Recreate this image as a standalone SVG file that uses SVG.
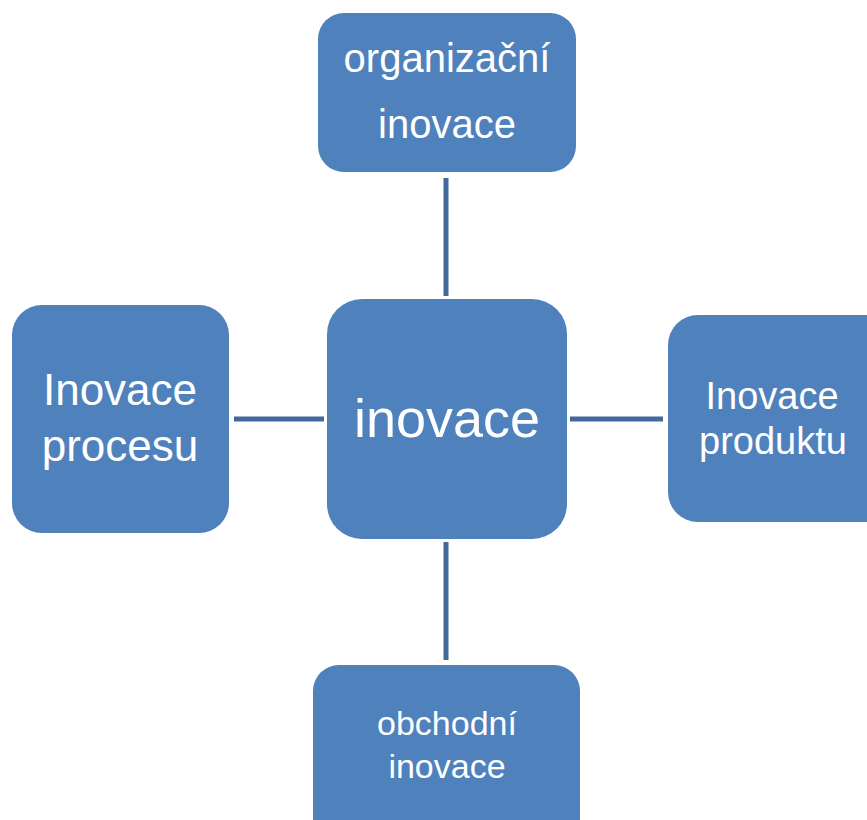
<svg xmlns="http://www.w3.org/2000/svg" width="867" height="820" viewBox="0 0 867 820">
  <style>
    .box { fill: #4F81BD; }
    .lbl { fill: #FFFFFF; font-family: "Liberation Sans", Arial, sans-serif; text-anchor: middle; }
    .link { stroke: #41699B; stroke-width: 5; fill: none; }
  </style>
  <rect width="867" height="820" fill="#FFFFFF"/>

  <g id="connectors">
    <line class="link" x1="446" y1="178" x2="446" y2="296"/>
    <line class="link" x1="234" y1="419" x2="324" y2="419"/>
    <line class="link" x1="570" y1="419" x2="663" y2="419"/>
    <line class="link" x1="446" y1="542" x2="446" y2="660"/>
  </g>

  <g id="node-organizacni">
    <rect class="box" x="318" y="13" width="258" height="159" rx="26"/>
    <text class="lbl" x="447" y="72" font-size="40">organizační</text>
    <text class="lbl" x="447" y="138" font-size="40">inovace</text>
  </g>

  <g id="node-procesu">
    <rect class="box" x="12" y="305" width="217" height="228" rx="30"/>
    <text class="lbl" x="120" y="405" font-size="44">Inovace</text>
    <text class="lbl" x="120" y="461" font-size="44">procesu</text>
  </g>

  <g id="node-inovace">
    <rect class="box" x="327" y="299" width="240" height="240" rx="35"/>
    <text class="lbl" x="447" y="437" font-size="54">inovace</text>
  </g>

  <g id="node-produktu">
    <rect class="box" x="668" y="315" width="230" height="207" rx="30"/>
    <text class="lbl" x="772" y="409" font-size="38">Inovace</text>
    <text class="lbl" x="773" y="454" font-size="38">produktu</text>
  </g>

  <g id="node-obchodni">
    <rect class="box" x="313" y="665" width="267" height="190" rx="26"/>
    <text class="lbl" x="447" y="735" font-size="34">obchodní</text>
    <text class="lbl" x="447" y="778" font-size="34">inovace</text>
  </g>
</svg>
